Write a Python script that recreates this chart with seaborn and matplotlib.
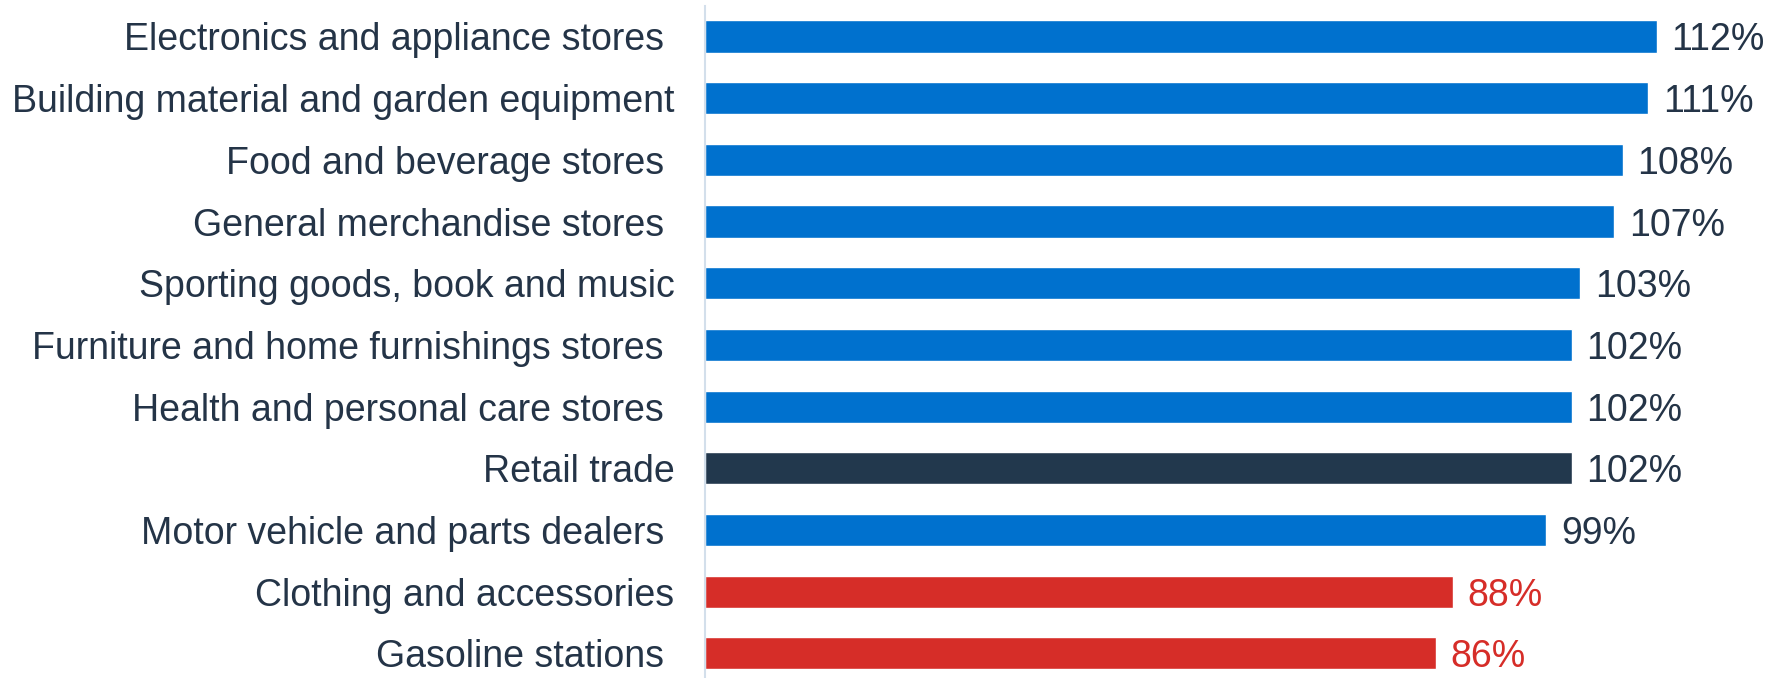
import matplotlib
matplotlib.use("Agg")
import matplotlib.pyplot as plt
import seaborn as sns
import pandas as pd

# Retail sales by store type, indexed (%)
categories = [
    "Electronics and appliance stores ",
    "Building material and garden equipment",
    "Food and beverage stores ",
    "General merchandise stores ",
    "Sporting goods, book and music",
    "Furniture and home furnishings stores ",
    "Health and personal care stores ",
    "Retail trade",
    "Motor vehicle and parts dealers ",
    "Clothing and accessories",
    "Gasoline stations ",
]
values = [112, 111, 108, 107, 103, 102, 102, 102, 99, 88, 86]
groups = ["up", "up", "up", "up", "up", "up", "up", "total", "up", "down", "down"]

bar_colors = {"up": "#0071CE", "total": "#22384D", "down": "#D62D28"}
label_colors = {"up": "#243447", "total": "#243447", "down": "#D62D28"}
text_color = "#243447"

df = pd.DataFrame({"category": categories, "value": values, "group": groups})

sns.set_theme(style="white")
plt.rcParams["font.family"] = ["Liberation Sans", "DejaVu Sans"]

fig = plt.figure(figsize=(17.81, 6.78), dpi=100)
ax = fig.add_axes([0.3958, 0.0, 0.5918, 0.9917])

palette = [bar_colors[g] for g in groups]
sns.barplot(data=df, x="value", y="category", hue="category", palette=palette,
            legend=False, width=0.52, saturation=1, ax=ax, orient="h")

ax.set_xlim(0, 124)
ax.set_ylim(10.4, -0.5)
ax.set_xlabel("")
ax.set_ylabel("")
ax.set_xticks([])

ax.tick_params(axis="y", length=0, pad=22, labelsize=27, labelcolor=text_color)

for side in ["top", "right", "bottom"]:
    ax.spines[side].set_visible(False)
ax.spines["left"].set_color("#D3DFEB")
ax.spines["left"].set_linewidth(1.5)

for container, g in zip(ax.containers, groups):
    texts = ax.bar_label(container, labels=[f"{v:.0f}%" for v in container.datavalues],
                         padding=10.5, fontsize=27, color=label_colors[g])
    for t in texts:
        t.set_va("center_baseline")

fig.savefig("out.png", dpi=100)
